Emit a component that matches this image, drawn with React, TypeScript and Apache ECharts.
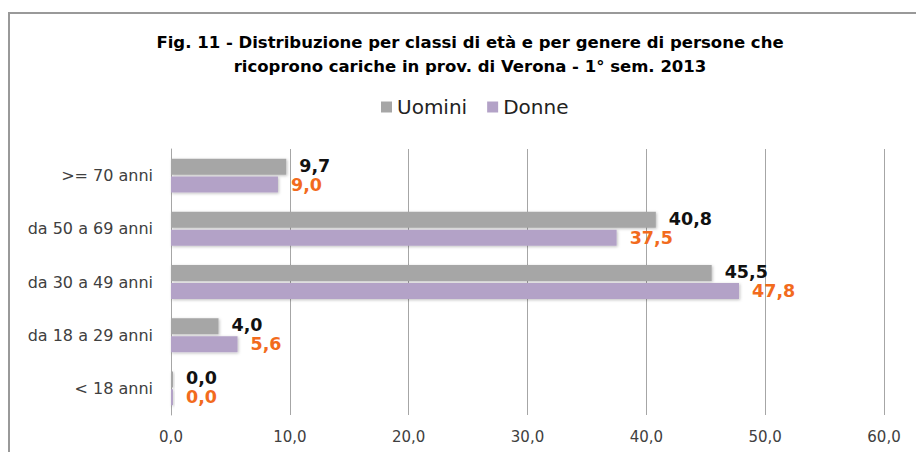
import React, { useEffect, useRef } from "react";
import * as echarts from "echarts";

const categories = ["< 18 anni", "da 18 a 29 anni", "da 30 a 49 anni", "da 50 a 69 anni", ">= 70 anni"];
const uomini = [0.0, 4.0, 45.5, 40.8, 9.7];
const donne = [0.0, 5.6, 47.8, 37.5, 9.0];
const xTicks = { min: 0, max: 60, interval: 10 };
const titleLines = [
  "Fig. 11 - Distribuzione per classi di età e per genere di persone che",
  "ricoprono cariche in prov. di Verona - 1° sem. 2013",
];

const fmt = (v: number) => v.toFixed(1).replace(".", ",");

export default function App() {
  const ref = useRef<HTMLDivElement>(null);
  useEffect(() => {
    if (!ref.current) return;
    const chart = echarts.init(ref.current, null, { renderer: "svg" });
    const labelBase = {
      show: true,
      position: "right",
      distance: 13,
      fontFamily: "DejaVu Sans",
      fontWeight: "bold",
      fontSize: 17.5,
      formatter: (p: any) => fmt(p.value),
    };
    chart.setOption({
      animation: false,
      backgroundColor: "#ffffff",
      title: {
        text: titleLines.join("\n"),
        left: 465,
        textAlign: "center",
        top: 25,
        textStyle: {
          fontFamily: "DejaVu Sans",
          fontWeight: "bold",
          fontSize: 16.5,
          lineHeight: 24,
          color: "#000000",
        },
      },
      legend: {
        left: 376,
        top: 92,
        icon: "rect",
        itemWidth: 11,
        itemHeight: 11,
        itemGap: 20,
        textStyle: { fontFamily: "DejaVu Sans", fontSize: 20, color: "#222222", padding: [0, 0, 0, 0] },
        data: ["Uomini", "Donne"],
      },
      graphic: [
        {
          type: "polyline",
          shape: { points: [[9, 452], [9, 13], [916, 13]] },
          style: { stroke: "#999999", lineWidth: 2, fill: "none" },
          z: 10,
        },
      ],
      grid: { left: 171, right: 32, top: 149, bottom: 37 },
      xAxis: {
        type: "value",
        min: xTicks.min,
        max: xTicks.max,
        interval: xTicks.interval,
        axisLine: { show: false },
        axisTick: { show: false },
        splitLine: { lineStyle: { color: "#a6a6a6", width: 1 } },
        axisLabel: {
          formatter: (v: number) => fmt(v),
          fontFamily: "DejaVu Sans",
          fontSize: 15,
          color: "#404040",
          margin: 14,
        },
      },
      yAxis: {
        type: "category",
        data: categories,
        axisLine: { show: true, lineStyle: { color: "#a6a6a6" } },
        axisTick: { show: false },
        axisLabel: {
          fontFamily: "DejaVu Sans",
          fontSize: 16,
          color: "#404040",
          margin: 18,
        },
      },
      series: [
        {
          name: "Uomini",
          type: "bar",
          data: uomini,
          barWidth: 16,
          barGap: "12%",
          barMinHeight: 2,
          itemStyle: { color: "#a6a6a6", shadowBlur: 3, shadowColor: "rgba(0,0,0,0.25)", shadowOffsetX: 1, shadowOffsetY: 1 },
          label: { ...labelBase, color: "#111111", offset: [0, -1] },
        },
        {
          name: "Donne",
          type: "bar",
          data: donne,
          barWidth: 16,
          barGap: "12%",
          barMinHeight: 2,
          itemStyle: { color: "#b3a2c7", shadowBlur: 3, shadowColor: "rgba(0,0,0,0.25)", shadowOffsetX: 1, shadowOffsetY: 1 },
          label: { ...labelBase, color: "#f26b1d", offset: [0, 0] },
        },
      ],
    });
    return () => chart.dispose();
  }, []);
  return (
    <div
      ref={ref}
      style={{ position: "fixed", left: 0, top: 0, width: 916, height: 452 }}
    />
  );
}
